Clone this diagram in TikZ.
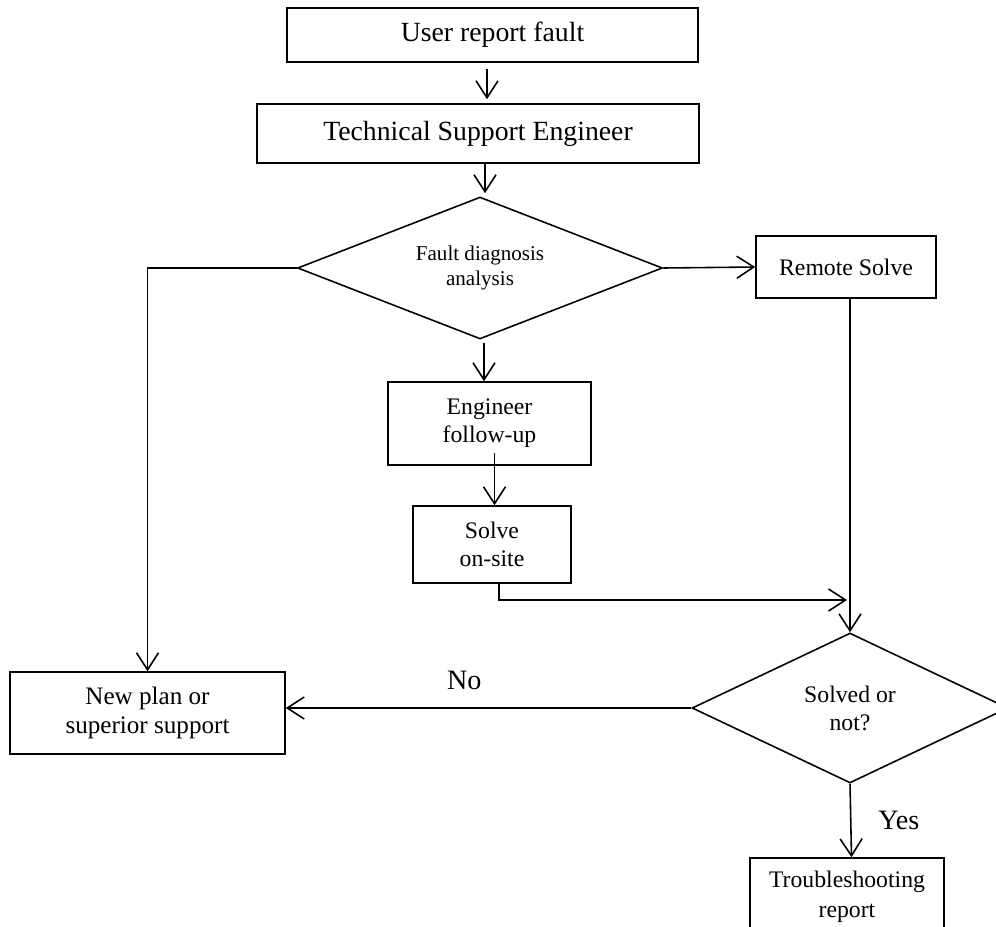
\documentclass[tikz,border=0pt]{standalone}
\usepackage{fontspec}
\setmainfont{Liberation Serif}
\usetikzlibrary{shapes.geometric,arrows.meta,calc}

\begin{document}
\begin{tikzpicture}[x=0.02cm,y=-0.02cm,
  box/.style={draw,line width=0.9pt,align=center,inner sep=0pt,font=\fontsize{13.5}{16}\selectfont},
  bigbox/.style={box,font=\fontsize{15.8}{18}\selectfont},
  decision/.style={draw,diamond,aspect=2,line width=0.9pt,align=center,inner sep=0pt,font=\fontsize{13.5}{16}\selectfont},
  lbl/.style={font=\fontsize{16}{18}\selectfont},
  arr/.style={line width=0.9pt,-{Straight Barb[length=0.34cm,width=0.44cm]}}]
\useasboundingbox (0,0) rectangle (996,926);
\node[bigbox,minimum width=8.22cm,minimum height=1.08cm] (report) at (492.5,35) {User report fault};
\node[bigbox,minimum width=8.84cm,minimum height=1.18cm] (tse) at (478,133.5) {Technical Support Engineer};
\node[decision,minimum width=7.3cm,minimum height=2.84cm,font=\fontsize{12}{14}\selectfont] (fda) at (480,268) {Fault diagnosis\\analysis};
\node[box,minimum width=3.6cm,minimum height=1.24cm] (remote) at (846,267) {Remote Solve};
\node[box,minimum width=4.06cm,minimum height=1.66cm] (follow) at (489.5,423.5) {Engineer\\follow-up};
\node[box,minimum width=3.16cm,minimum height=1.54cm] (onsite) at (492,544.5) {Solve\\on-site};
\node[box,minimum width=5.5cm,minimum height=1.64cm,font=\fontsize{14.3}{16.5}\selectfont] (newplan) at (147.5,713) {New plan or\\superior support};
\node[decision,minimum width=6.32cm,minimum height=3cm] (solved) at (850,708) {Solved or\\not?};
\node[box,minimum width=3.88cm,minimum height=1.56cm,font=\fontsize{13.5}{17}\selectfont] (trouble) at (847,897) {Troubleshooting\\report};
\coordinate (join) at (850,600);
\draw[arr] ($(report.south)+(-5.5,6)$) -- ($(report.south |- tse.north)+(-5.5,-4)$);
\draw[arr] ($(tse.south)+(7,0)$) -- ($(tse.south |- fda.north)+(7,-3)$);
\draw[arr] (fda.west) -| (newplan.north);
\draw[arr] (fda.east) -- (remote.west);
\draw[arr] ($(fda.south)+(4,3)$) -- ($(fda.south |- follow.north)+(4,0)$);
\draw[arr] ($(follow.south)+(5,-13)$) -- ($(follow.south |- onsite.north)+(5,0)$);
\draw[arr] ($(onsite.south)+(7,0)$) |- ($(join)+(-3,0)$);
\draw[arr] (solved.north |- remote.south) -- (solved.north);
\draw[arr] (solved.west) -- node[lbl,pos=0.56,above=0.24cm] {No} (solved.west -| newplan.east);
\draw[arr] (solved.south) -- node[lbl,right=0.42cm] {Yes} ($(trouble.north)+(4.5,0)$);
\end{tikzpicture}
\end{document}
